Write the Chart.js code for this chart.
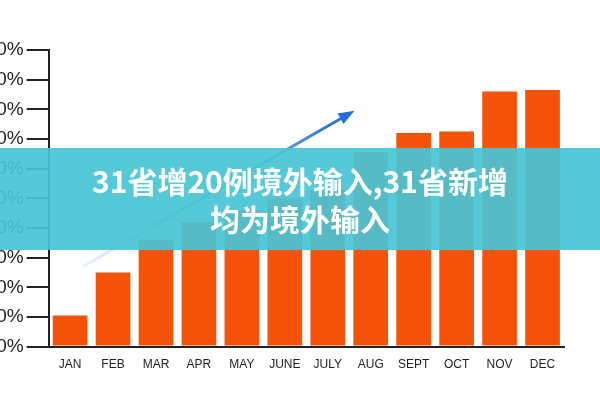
<!DOCTYPE html>
<html><head><meta charset="utf-8">
<script src="https://cdn.jsdelivr.net/npm/chart.js@4"></script>
<style>
body{margin:0;width:600px;height:400px;overflow:hidden;background:#fff;position:relative}
#wrap{position:absolute;left:-28px;top:30px;width:622px;height:345px}
#banner{position:absolute;left:0;top:148px;width:600px;height:102px;background:rgba(72,196,214,0.92);
color:#fff;font-family:"Noto Sans CJK SC";font-weight:bold;font-size:30px;text-align:center;line-height:38px;padding-top:13px;box-sizing:border-box}
</style></head><body>
<div id="wrap"><canvas id="myChart"></canvas></div>
<div id="banner">31省增20例境外输入,31省新增<br>均为境外输入</div>
<script>
let months = ["JAN","FEB","MAR","APR","MAY","JUNE","JULY","AUG","SEPT","OCT","NOV","DEC"];
let values = [10.5, 25, 36, 42, 46, 50, 53, 65.5, 72, 72.5, 86, 86.5];
let tickLabels = ["00%","10%","20%","30%","40%","50%","60%","70%","80%","90%","100%"];
let arrowFrom = [0.3, 27];
let arrowTo = [6.5, 78.5];

const arrowPlugin = {
  id: "arrow",
  afterDatasetsDraw(chart) {
    const c = chart.ctx, x = chart.scales.x, y = chart.scales.y;
    const x1 = x.getPixelForValue(arrowFrom[0]), y1 = y.getPixelForValue(arrowFrom[1]);
    const x2 = x.getPixelForValue(arrowTo[0]), y2 = y.getPixelForValue(arrowTo[1]);
    const g = c.createLinearGradient(x1, y1, x2, y2);
    g.addColorStop(0, "rgba(60,120,220,0.1)");
    g.addColorStop(1, "#1f6fd6");
    c.save();
    c.strokeStyle = g; c.lineWidth = 3;
    c.beginPath(); c.moveTo(x1, y1); c.lineTo(x2, y2); c.stroke();
    const a = Math.atan2(y2 - y1, x2 - x1);
    c.fillStyle = "#1f6fd6";
    c.beginPath();
    c.moveTo(x2 + 6 * Math.cos(a), y2 + 6 * Math.sin(a));
    c.lineTo(x2 - 10 * Math.cos(a) + 6 * Math.sin(a), y2 - 10 * Math.sin(a) - 6 * Math.cos(a));
    c.lineTo(x2 - 10 * Math.cos(a) - 6 * Math.sin(a), y2 - 10 * Math.sin(a) + 6 * Math.cos(a));
    c.fill();
    c.restore();
  }
};

new Chart(document.getElementById("myChart"), {
  type: "bar",
  data: { labels: months, datasets: [{ data: values, backgroundColor: "#F5520A", barPercentage: 0.85, categoryPercentage: 0.95 }] },
  options: {
    responsive: true, maintainAspectRatio: false, animation: false,
    layout: { padding: { top: 20, right: 30 } },
    plugins: { legend: { display: false }, tooltip: { enabled: false } },
    scales: {
      y: {
        min: 0, max: 100,
        ticks: { stepSize: 10, color: "#222", font: { family: "Liberation Sans", size: 19 },
          callback: (v, i) => tickLabels[i] },
        grid: { display: true, drawOnChartArea: false, tickLength: 22, color: "#222", lineWidth: 2 },
        border: { color: "#222", width: 2 }
      },
      x: {
        ticks: { color: "#222", font: { family: "Liberation Sans", size: 12 }, maxRotation: 0 },
        grid: { display: false },
        border: { color: "#222", width: 2 }
      }
    }
  },
  plugins: [arrowPlugin]
});
</script></body></html>
